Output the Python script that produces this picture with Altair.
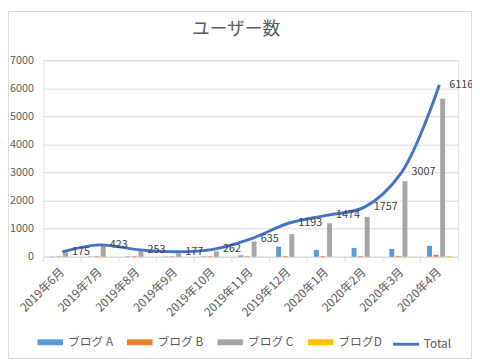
import altair as alt
import pandas as pd

months = ["2019年6月", "2019年7月", "2019年8月", "2019年9月", "2019年10月", "2019年11月",
          "2019年12月", "2020年1月", "2020年2月", "2020年3月", "2020年4月"]
series_names = ["ブログ A", "ブログ B", "ブログ C", "ブログD"]
blog_a = [10, 12, 15, 10, 15, 50, 360, 245, 315, 280, 390]
blog_b = [15, 20, 20, 15, 20, 20, 25, 25, 25, 30, 70]
blog_c = [150, 385, 210, 120, 190, 540, 805, 1195, 1420, 2690, 5630]
blog_d = [0, 3, 3, 2, 2, 5, 3, 4, 4, 7, 26]
total = [175, 423, 253, 177, 262, 635, 1193, 1474, 1757, 3007, 6116]
y_ticks = [0, 1000, 2000, 3000, 4000, 5000, 6000, 7000]
chart_title = "ユーザー数"

FONT = "Noto Sans CJK JP"
COLORS = ["#5B9BD5", "#ED7D31", "#A5A5A5", "#FFC000"]
LINE_COLOR = "#4472C4"
GRID = "#D9D9D9"
TXT = "#595959"

rows = []
for name, vals in zip(series_names, [blog_a, blog_b, blog_c, blog_d]):
    for m, v in zip(months, vals):
        rows.append({"month": m, "series": name, "value": v})
bars_df = pd.DataFrame(rows)
line_df = pd.DataFrame({"month": months, "total": total, "series": ["Total"] * len(months)})

W, H = 422, 200

x_scale = alt.Scale(type="band", domain=months, paddingInner=0, paddingOuter=0)
y_scale = alt.Scale(domain=[0, 7000], nice=False, zero=True)

x_axis = alt.Axis(title=None, labelAngle=-45, labelAlign="right", labelBaseline="middle",
                  labelFont=FONT, labelFontSize=12, labelColor=TXT, ticks=False,
                  domainColor=GRID, labelPadding=13, grid=False, labelOverlap=False)
y_axis = alt.Axis(title=None, values=y_ticks, format="d", labelFont=FONT,
                  labelFontSize=11, labelColor=TXT, ticks=False, domain=False,
                  gridColor=GRID, labelPadding=10, labelOverlap=False)

bars = alt.Chart(bars_df).mark_bar().encode(
    x=alt.X("month:N", scale=x_scale, axis=x_axis, sort=months),
    xOffset=alt.XOffset("series:N", scale=alt.Scale(domain=series_names, paddingInner=0.25, paddingOuter=0.99)),
    y=alt.Y("value:Q", scale=y_scale, axis=y_axis),
    color=alt.Color("series:N", scale=alt.Scale(domain=series_names, range=COLORS),
                    legend=alt.Legend(title=None, orient="none", direction="horizontal", columns=4,
                                      legendX=-6, legendY=274, symbolType="M-1,-0.23H1V0.23H-1Z",
                                      symbolSize=676, symbolStrokeWidth=0, labelFont=FONT,
                                      labelFontSize=12, labelColor=TXT, columnPadding=14,
                                      labelOffset=5)),
)

line = alt.Chart(line_df).mark_line(strokeWidth=3, interpolate="catmull-rom").encode(
    x=alt.X("month:N", scale=x_scale, axis=x_axis, sort=months),
    y=alt.Y("total:Q", scale=y_scale, axis=y_axis),
    stroke=alt.Stroke("series:N", scale=alt.Scale(domain=["Total"], range=[LINE_COLOR]),
                      legend=alt.Legend(title=None, orient="none", legendX=354, legendY=274,
                                        symbolType="stroke", symbolSize=700, symbolStrokeWidth=3,
                                        labelFont=FONT, labelFontSize=12, labelColor=TXT,
                                        labelOffset=3)),
)

labels = alt.Chart(line_df).mark_text(align="left", baseline="middle", dx=10, font=FONT,
                                      fontSize=11, color="#404040").encode(
    x=alt.X("month:N", scale=x_scale, axis=x_axis, sort=months),
    y=alt.Y("total:Q", scale=y_scale, axis=y_axis),
    text="total:Q",
)

ticks = alt.Chart(line_df).mark_rule(color=GRID).encode(
    x=alt.X("month:N", scale=x_scale, axis=x_axis, sort=months, bandPosition=0),
    y=alt.value(H), y2=alt.value(H + 5),
)
end_tick = alt.Chart(pd.DataFrame({"a": [0]})).mark_rule(color=GRID).encode(
    x=alt.value(W), y=alt.value(H), y2=alt.value(H + 5),
)
border = alt.Chart(pd.DataFrame({"a": [0]})).mark_rect(fill=None, stroke=GRID, strokeWidth=1).encode(
    x=alt.value(-35.5), x2=alt.value(W + 13.5), y=alt.value(-49.5), y2=alt.value(H + 103.5),
)
title = alt.Chart(pd.DataFrame({"t": [chart_title]})).mark_text(
    font=FONT, fontSize=18, color=TXT, align="center", baseline="middle").encode(
    x=alt.value(196), y=alt.value(-31), text="t:N",
)

chart = alt.layer(border, bars, line, labels, ticks, end_tick, title).properties(
    width=W, height=H,
    autosize=alt.AutoSizeParams(type="none"),
    padding={"left": 36, "top": 50, "right": 14, "bottom": 104},
).configure_view(stroke=None).configure(background="white")

chart.save("out.html", embed_options={"renderer": "svg", "actions": False})
